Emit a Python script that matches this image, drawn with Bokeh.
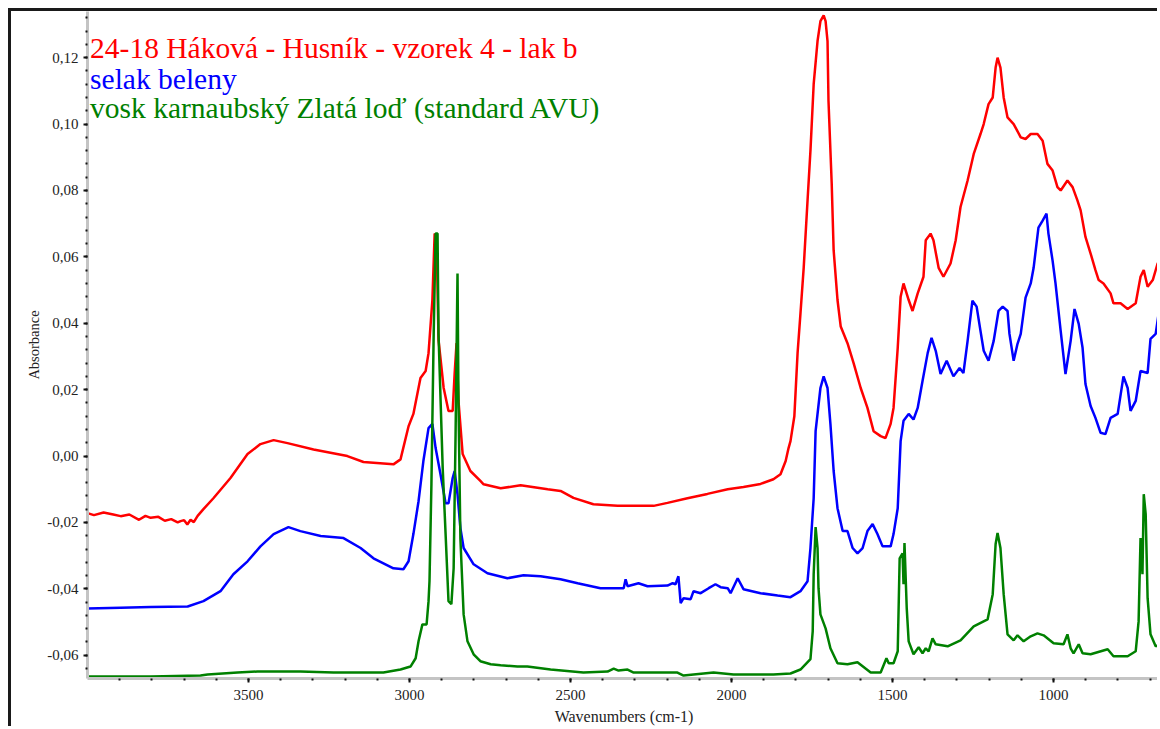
from bokeh.plotting import figure
from bokeh.models import Range1d, FixedTicker, CustomJSTickFormatter, Label
from bokeh.embed import file_html
from bokeh.resources import INLINE

# ---- data (wavenumber cm-1, absorbance) ----
red_wn = [4000, 3980, 3950, 3920, 3897, 3870, 3840, 3820, 3804, 3780, 3760, 3740, 3720, 3711, 3700,
          3690, 3680, 3670, 3658, 3640, 3609, 3556, 3503, 3463, 3422, 3379, 3298, 3193, 3143, 3050,
          3028, 3003, 2988, 2966, 2950, 2941, 2929, 2922, 2916, 2910, 2894, 2879, 2866, 2860, 2854,
          2848, 2835, 2811, 2780, 2770, 2717, 2655, 2571, 2531, 2491, 2429, 2354, 2242, 2199, 2137,
          2075, 2012, 1963, 1910, 1870, 1848, 1832, 1823, 1817, 1805, 1795, 1786, 1776, 1764, 1755,
          1745, 1733, 1724, 1714, 1708, 1702, 1699, 1689, 1683, 1671, 1661, 1640, 1621, 1599, 1578,
          1559, 1537, 1522, 1506, 1497, 1484, 1475, 1466, 1450, 1438, 1422, 1404, 1397, 1382, 1373,
          1357, 1342, 1320, 1304, 1289, 1267, 1248, 1227, 1217, 1202, 1189, 1180, 1174, 1165, 1155,
          1143, 1124, 1102, 1087, 1071, 1050, 1034, 1019, 1003, 988, 978, 957, 941, 926, 916, 901,
          885, 870, 860, 845, 823, 814, 792, 770, 745, 730, 720, 708, 692, 677, 668]
red_abs = [-0.0172, -0.0178, -0.0170, -0.0176, -0.0181, -0.0176, -0.0192, -0.0180, -0.0186, -0.0183,
           -0.0195, -0.0190, -0.0200, -0.0196, -0.0193, -0.0206, -0.0192, -0.0199, -0.0180, -0.0160,
           -0.0127, -0.0066, 0.0006, 0.0036, 0.0048, 0.0039, 0.0020, 0.0000, -0.0018, -0.0025,
           -0.0010, 0.0090, 0.0127, 0.0235, 0.0256, 0.0310, 0.0470, 0.0670, 0.0660, 0.0350, 0.0205,
           0.0136, 0.0136, 0.0247, 0.0340, 0.0166, 0.0006, -0.0045, -0.0075, -0.0085, -0.0097,
           -0.0088, -0.0100, -0.0105, -0.0126, -0.0145, -0.0150, -0.0150, -0.0141, -0.0127, -0.0114,
           -0.0100, -0.0093, -0.0084, -0.0070, -0.0055, -0.0015, 0.0024, 0.0045, 0.0120, 0.0310,
           0.0430, 0.0567, 0.0770, 0.0920, 0.1120, 0.1250, 0.1310, 0.1327, 0.1310, 0.1250, 0.1070,
           0.0820, 0.0620, 0.0470, 0.0390, 0.0340, 0.0280, 0.0205, 0.0145, 0.0075, 0.0060, 0.0054,
           0.0097, 0.0145, 0.0326, 0.0480, 0.0520, 0.0470, 0.0437, 0.0490, 0.0540, 0.0650, 0.0670,
           0.0650, 0.0567, 0.0540, 0.0580, 0.0650, 0.0750, 0.0830, 0.0910, 0.0970, 0.1000, 0.1060,
           0.1080, 0.1170, 0.1200, 0.1170, 0.1080, 0.1020, 0.1000, 0.0960, 0.0955, 0.0970, 0.0970,
           0.0950, 0.0880, 0.0860, 0.0810, 0.0800, 0.0830, 0.0810, 0.0770, 0.0740, 0.0660, 0.0610,
           0.0560, 0.0530, 0.0520, 0.0490, 0.0460, 0.0460, 0.0443, 0.0460, 0.0540, 0.0560, 0.0510,
           0.0530, 0.0580, 0.0590]

blue_wn = [4000, 3897, 3804, 3689, 3640, 3587, 3547, 3503, 3463, 3422, 3376, 3339, 3276, 3205, 3152,
           3112, 3050, 3019, 3003, 2988, 2972, 2957, 2941, 2929, 2919, 2904, 2888, 2879, 2866, 2860,
           2851, 2842, 2832, 2801, 2758, 2696, 2646, 2593, 2531, 2478, 2407, 2335, 2329, 2323, 2289,
           2261, 2199, 2183, 2174, 2165, 2158, 2149, 2127, 2118, 2096, 2071, 2050, 2034, 2012, 2003,
           1981, 1963, 1910, 1857, 1817, 1786, 1764, 1755, 1745, 1739, 1724, 1714, 1702, 1693, 1683,
           1671, 1655, 1640, 1624, 1609, 1593, 1578, 1562, 1547, 1531, 1506, 1497, 1484, 1475, 1466,
           1450, 1435, 1422, 1407, 1391, 1379, 1366, 1351, 1332, 1311, 1292, 1280, 1267, 1252, 1239,
           1227, 1217, 1202, 1186, 1171, 1158, 1143, 1137, 1124, 1112, 1102, 1087, 1071, 1062, 1047,
           1034, 1022, 1016, 1003, 994, 978, 963, 947, 935, 922, 910, 901, 885, 870, 854, 839, 823,
           801, 783, 770, 761, 745, 730, 708, 699, 683, 674, 668]
blue_abs = [-0.0459, -0.0457, -0.0455, -0.0453, -0.0437, -0.0407, -0.0356, -0.0317, -0.0272, -0.0235,
            -0.0214, -0.0226, -0.0241, -0.0247, -0.0277, -0.0308, -0.0338, -0.0341, -0.0317, -0.0235,
            -0.0136, -0.0015, 0.0084, 0.0097, 0.0024, -0.0054, -0.0142, -0.0142, -0.0066, -0.0045,
            -0.0115, -0.0217, -0.0277, -0.0326, -0.0353, -0.0368, -0.0359, -0.0362, -0.0371, -0.0383,
            -0.0398, -0.0398, -0.0371, -0.0392, -0.0383, -0.0392, -0.0390, -0.0383, -0.0386, -0.0362,
            -0.0443, -0.0428, -0.0431, -0.0407, -0.0413, -0.0398, -0.0386, -0.0395, -0.0398, -0.0413,
            -0.0368, -0.0401, -0.0413, -0.0420, -0.0425, -0.0407, -0.0377, -0.0277, -0.0127, 0.0075,
            0.0205, 0.0240, 0.0205, 0.0097, -0.0045, -0.0157, -0.0226, -0.0226, -0.0277, -0.0293,
            -0.0277, -0.0226, -0.0205, -0.0235, -0.0272, -0.0272, -0.0235, -0.0157, 0.0045, 0.0106,
            0.0127, 0.0110, 0.0145, 0.0226, 0.0310, 0.0356, 0.0317, 0.0247, 0.0287, 0.0240, 0.0265,
            0.0250, 0.0347, 0.0468, 0.0450, 0.0377, 0.0317, 0.0287, 0.0347, 0.0437, 0.0450, 0.0437,
            0.0368, 0.0287, 0.0338, 0.0368, 0.0477, 0.0520, 0.0567, 0.0688, 0.0709, 0.0730, 0.0670,
            0.0588, 0.0520, 0.0377, 0.0247, 0.0347, 0.0443, 0.0398, 0.0326, 0.0217, 0.0151, 0.0115,
            0.0070, 0.0066, 0.0115, 0.0127, 0.0240, 0.0205, 0.0136, 0.0166, 0.0256, 0.0250, 0.0353,
            0.0368, 0.0428, 0.0430]

green_wn = [4000, 3804, 3649, 3627, 3534, 3472, 3339, 3236, 3081, 3028, 2997, 2981, 2972, 2960, 2947,
            2941, 2938, 2932, 2925, 2919, 2913, 2910, 2897, 2888, 2879, 2870, 2863, 2857, 2851, 2848,
            2842, 2832, 2820, 2801, 2780, 2748, 2717, 2665, 2634, 2562, 2460, 2385, 2366, 2351, 2323,
            2304, 2168, 2149, 2087, 2056, 1994, 1870, 1817, 1786, 1755, 1748, 1745, 1739, 1733, 1730,
            1724, 1708, 1693, 1671, 1640, 1609, 1568, 1537, 1519, 1512, 1497, 1484, 1478, 1469, 1466,
            1463, 1456, 1450, 1435, 1419, 1407, 1397, 1388, 1376, 1366, 1329, 1289, 1248, 1205, 1189,
            1180, 1174, 1165, 1155, 1143, 1124, 1112, 1093, 1071, 1050, 1031, 1000, 969, 957, 947, 938,
            922, 910, 885, 832, 814, 770, 745, 736, 730, 724, 720, 714, 708, 699, 683, 668]
green_abs = [-0.0664, -0.0664, -0.0661, -0.0658, -0.0652, -0.0649, -0.0649, -0.0652, -0.0652, -0.0643,
             -0.0634, -0.0609, -0.0558, -0.0507, -0.0507, -0.0437, -0.0377, -0.0084, 0.0368, 0.0670,
             0.0670, 0.0368, -0.0036, -0.0235, -0.0437, -0.0446, -0.0338, 0.0066, 0.0550, 0.0166,
             -0.0250, -0.0477, -0.0558, -0.0597, -0.0618, -0.0627, -0.0630, -0.0634, -0.0634, -0.0643,
             -0.0652, -0.0649, -0.0640, -0.0646, -0.0643, -0.0652, -0.0652, -0.0661, -0.0655, -0.0652,
             -0.0658, -0.0658, -0.0655, -0.0643, -0.0612, -0.0528, -0.0356, -0.0214, -0.0277, -0.0398,
             -0.0477, -0.0519, -0.0579, -0.0624, -0.0627, -0.0621, -0.0652, -0.0652, -0.0609, -0.0624,
             -0.0624, -0.0588, -0.0308, -0.0293, -0.0386, -0.0262, -0.0459, -0.0558, -0.0597, -0.0576,
             -0.0594, -0.0579, -0.0588, -0.0549, -0.0567, -0.0573, -0.0555, -0.0513, -0.0492, -0.0416,
             -0.0265, -0.0232, -0.0277, -0.0416, -0.0537, -0.0555, -0.0540, -0.0558, -0.0543, -0.0534,
             -0.0540, -0.0564, -0.0567, -0.0537, -0.0579, -0.0594, -0.0567, -0.0594, -0.0597, -0.0582,
             -0.0603, -0.0603, -0.0588, -0.0498, -0.0247, -0.0356, -0.0115, -0.0175, -0.0428, -0.0537,
             -0.0573, -0.0567]

y_major = [-0.06, -0.04, -0.02, 0.0, 0.02, 0.04, 0.06, 0.08, 0.10, 0.12]
y_minor = [round(-0.064 + 0.004 * i, 3) for i in range(50)]
x_major = [3500, 3000, 2500, 2000, 1500, 1000]
x_minor = list(range(700, 4000, 100))

legend_texts = ["24-18 Háková - Husník - vzorek 4 - lak b",
                "selak beleny",
                "vosk karnaubský Zlatá loď (standard AVU)"]
colors = ["#ff0000", "#0000ff", "#008000"]

FONT = "Liberation Serif"

p = figure(width=1149, height=718,
           x_range=Range1d(4000, 668), y_range=Range1d(-0.067, 0.1339),
           output_backend="svg", toolbar_location=None,
           min_border_left=76, min_border_right=0, min_border_top=0, min_border_bottom=51,
           background_fill_color="white", border_fill_color="white")
p.styles = {"margin-left": "8px", "margin-top": "8px",
            "border-left": "3px solid #1a1a1a", "border-top": "3px solid #1a1a1a"}
p.outline_line_color = None
p.grid.grid_line_color = None

for wn, ab, c in zip([red_wn, blue_wn, green_wn], [red_abs, blue_abs, green_abs], colors):
    p.line(wn, ab, line_color=c, line_width=2.5)

for ax in (p.xaxis[0], p.yaxis[0]):
    ax.axis_line_color = "#c4c4c4"
    ax.axis_line_width = 3
    ax.major_tick_line_color = "#111111"
    ax.major_tick_line_width = 2
    ax.major_tick_out = 4
    ax.major_tick_in = 0
    ax.minor_tick_line_color = "#111111"
    ax.minor_tick_line_width = 2
    ax.minor_tick_out = 2
    ax.minor_tick_in = 0
    ax.major_label_text_font = FONT
    ax.major_label_text_font_size = "15px"
    ax.major_label_text_color = "#222222"
    ax.axis_label_text_font = FONT
    ax.axis_label_text_font_style = "normal"
    ax.axis_label_text_color = "#222222"

p.yaxis[0].ticker = FixedTicker(ticks=y_major, minor_ticks=y_minor)
p.yaxis[0].formatter = CustomJSTickFormatter(code="return tick.toFixed(2).replace('.', ',');")
p.yaxis[0].axis_label = "Absorbance"
p.yaxis[0].axis_label_text_font_size = "14.5px"
p.yaxis[0].major_label_standoff = 5
p.yaxis[0].axis_label_standoff = 2

p.xaxis[0].ticker = FixedTicker(ticks=x_major, minor_ticks=x_minor)
p.xaxis[0].axis_label = "Wavenumbers (cm-1)"
p.xaxis[0].axis_label_text_font_size = "16px"
p.xaxis[0].major_label_standoff = 7
p.xaxis[0].axis_label_standoff = 5

label_y = [0.1228, 0.1137, 0.1047]
for t, c, yy in zip(legend_texts, colors, label_y):
    p.add_layout(Label(x=3992, y=yy, text=t, text_color=c, text_font=FONT,
                       text_font_size="29.5px", text_baseline="alphabetic"))

open("out.html", "w").write(file_html(p, INLINE))
